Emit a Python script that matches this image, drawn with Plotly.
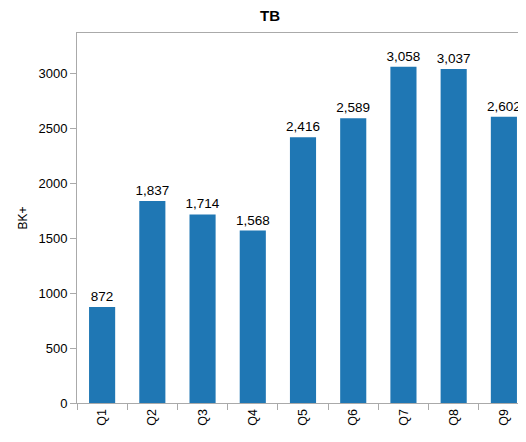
import plotly.graph_objects as go

categories = ["Q1", "Q2", "Q3", "Q4", "Q5", "Q6", "Q7", "Q8", "Q9"]
values = [872, 1837, 1714, 1568, 2416, 2589, 3058, 3037, 2602]
title_text = "TB"
y_title = "BK+"
y_ticks = [0, 500, 1000, 1500, 2000, 2500, 3000]

FONT = "Liberation Sans, Arial, Helvetica, sans-serif"
AXIS_GRAY = "#aaaaaa"

W, H = 518, 426  # page body has an 8px margin inside the 526x442 window

fig = go.Figure(
    go.Bar(
        x=categories,
        y=values,
        marker=dict(color="#1f77b4", line=dict(width=0)),
        text=values,
        texttemplate="%{y:,}",
        textposition="outside",
        constraintext="none",
        textfont=dict(family=FONT, size=13.5, color="#000000"),
        cliponaxis=False,
        hoverinfo="skip",
    )
)

fig.update_layout(
    width=W,
    height=H,
    margin=dict(l=69, r=0, t=25, b=31, pad=0),
    paper_bgcolor="white",
    plot_bgcolor="white",
    bargap=0.48,
    showlegend=False,
    font=dict(family=FONT, size=12, color="#000000"),
    title=dict(
        text="<b>" + title_text + "</b>",
        x=262 / W,
        xanchor="center",
        xref="container",
        yref="container",
        y=1,
        yanchor="top",
        pad=dict(t=2, b=0, l=0, r=0),
        font=dict(family=FONT, size=15, color="#000000"),
    ),
)

fig.update_xaxes(
    type="category",
    range=[-0.5, len(categories) - 0.5 - 3 / 50.2],
    showgrid=False,
    showline=True,
    linecolor=AXIS_GRAY,
    linewidth=1,
    mirror=True,
    ticks="outside",
    tickson="boundaries",
    ticklen=6,
    tickcolor=AXIS_GRAY,
    tickangle=-90,
    tickfont=dict(family=FONT, size=12.5, color="#000000"),
    zeroline=False,
)

fig.update_yaxes(
    range=[0, max(values) * 1.1],
    tickvals=y_ticks,
    showgrid=False,
    showline=True,
    linecolor=AXIS_GRAY,
    linewidth=1,
    ticks="outside",
    ticklen=6,
    tickcolor=AXIS_GRAY,
    tickfont=dict(family=FONT, size=13, color="#000000"),
    zeroline=False,
    title=dict(text=y_title, font=dict(family=FONT, size=12, color="#000000"), standoff=8),
)

fig.write_html("out.html")
